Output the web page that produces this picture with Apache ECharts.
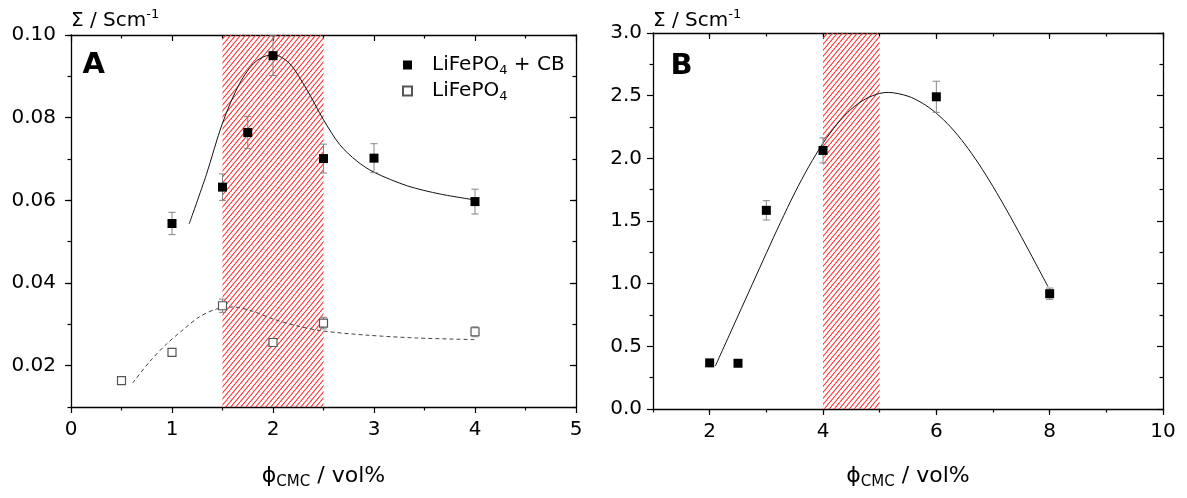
<!DOCTYPE html>
<html>
<head>
<meta charset="utf-8">
<script src="https://cdn.jsdelivr.net/npm/echarts@6/dist/echarts.min.js"></script>
<style>
  html, body { margin: 0; padding: 0; background: #fff; }
  #chart { width: 1187px; height: 498px; }
</style>
</head>
<body>
<div id="chart"></div>
<script>
// ---- Panel A: conductivity vs CMC content ----
const cbPhi = [1, 1.5, 1.75, 2, 2.5, 3, 4];
const cbSigma = [0.0544, 0.0632, 0.0764, 0.0950, 0.0701, 0.0702, 0.0597];
const cbErr = [0.0027, 0.0032, 0.0039, 0.0048, 0.0035, 0.0035, 0.0030];

const lfpPhi = [0.5, 1, 1.5, 2, 2.5, 4];
const lfpSigma = [0.0164, 0.0232, 0.0345, 0.0256, 0.0303, 0.0282];
const lfpErr = [0.0004, 0.0006, 0.0016, 0.0008, 0.0014, 0.0012];

// fitted guide curves
const cbFitPhi = [1.17, 1.34, 1.50, 1.67, 1.83, 2.0, 2.16, 2.33, 2.5, 2.66, 2.83, 3.0, 3.33, 3.66, 4.0];
const cbFitSigma = [0.0543, 0.0662, 0.0787, 0.0883, 0.0936, 0.0953, 0.0932, 0.0870, 0.0795, 0.0735, 0.0695, 0.0668, 0.0635, 0.0615, 0.0601];
const lfpFitPhi = [0.61, 0.78, 0.94, 1.11, 1.27, 1.44, 1.60, 1.77, 2.0, 2.26, 2.49, 2.92, 3.42, 4.0];
const lfpFitSigma = [0.0158, 0.0210, 0.0251, 0.0287, 0.0318, 0.0337, 0.0342, 0.0334, 0.0313, 0.0295, 0.0284, 0.0274, 0.0267, 0.0263];

// ---- Panel B ----
const bPhi = [2, 2.5, 3, 4, 6, 8];
const bSigma = [0.368, 0.365, 1.585, 2.063, 2.491, 0.92];
const bErr = [0.015, 0.015, 0.077, 0.10, 0.124, 0.045];
const bFitPhi = [2.1, 2.5, 2.75, 3.0, 3.25, 3.5, 3.75, 4.0, 4.25, 4.5, 4.75, 5.0, 5.15, 5.5, 5.75, 6.0, 6.25, 6.5, 6.75, 7.0, 7.25, 7.5, 7.75, 7.97];
const bFitSigma = [0.343, 0.743, 0.993, 1.243, 1.489, 1.723, 1.935, 2.12, 2.274, 2.393, 2.474, 2.518, 2.526, 2.496, 2.441, 2.36, 2.251, 2.115, 1.955, 1.775, 1.58, 1.375, 1.164, 0.977];

// optimal CMC windows (hatched)
const windowA = [1.5, 2.5];
const windowB = [4, 5];

// tick labels
const aYTicks = [0.02, 0.04, 0.06, 0.08, 0.10];
const bXTicks = [2, 4, 6, 8, 10];

const FONT = 'DejaVu Sans';
const axisLine = { color: '#000', width: 1.3 };
const tickLine = { color: '#000', width: 1.2 };

function zip(xs, ys) { return xs.map((x, i) => [x, ys[i]]); }
function zip3(xs, ys, es) { return xs.map((x, i) => [x, ys[i], es[i]]); }

// red diagonal hatch tile
function hatchTile() {
  const w = 5, h = 6;
  const c = document.createElement('canvas');
  c.width = w; c.height = h;
  const g = c.getContext('2d');
  g.strokeStyle = '#ff2a2a';
  g.lineWidth = 1.1;
  g.beginPath();
  [-w, 0, w].forEach(dx => { g.moveTo(dx, h); g.lineTo(dx + w, 0); });
  g.stroke();
  return c;
}
const hatch = { image: hatchTile(), repeat: 'repeat' };

function axis(extra) {
  return Object.assign({
    type: 'value',
    splitLine: { show: false },
    minorSplitLine: { show: false },
    axisLine: { show: true, onZero: false, lineStyle: axisLine },
    axisTick: { show: true, length: 6, inside: false, lineStyle: tickLine },
    axisLabel: { show: false },
  }, extra);
}
const label = (extra) => Object.assign({ show: true, fontFamily: FONT, fontSize: 20, color: '#000' }, extra);
const hidden = (extra) => Object.assign({ type: 'value', show: false }, extra);

function errorBars(xi, yi, data) {
  return {
    type: 'custom',
    xAxisIndex: xi, yAxisIndex: yi,
    data: data,
    encode: { x: 0, y: 1 },
    z: 3,
    silent: true,
    renderItem: function (params, api) {
      const x = api.value(0), y = api.value(1), e = api.value(2);
      const top = api.coord([x, y + e]);
      const bot = api.coord([x, y - e]);
      const hw = 3.6;
      const st = { stroke: '#858585', lineWidth: 1 };
      return {
        type: 'group',
        children: [
          { type: 'line', shape: { x1: top[0], y1: top[1], x2: bot[0], y2: bot[1] }, style: st },
          { type: 'line', shape: { x1: top[0] - hw, y1: top[1], x2: top[0] + hw, y2: top[1] }, style: st },
          { type: 'line', shape: { x1: bot[0] - hw, y1: bot[1], x2: bot[0] + hw, y2: bot[1] }, style: st },
        ],
      };
    },
  };
}

const gridA = { left: 71, right: 611, top: 35, bottom: 91 };
const gridB = { left: 653, right: 24, top: 33, bottom: 89 };

const legendRich = {
  g: { width: 15, fontSize: 20, lineHeight: 24 },
  n: { fontFamily: FONT, fontSize: 20, lineHeight: 24, color: '#000', verticalAlign: 'middle' },
  s: { fontFamily: FONT, fontSize: 13, lineHeight: 13, color: '#000', verticalAlign: 'bottom' },
};

const option = {
  animation: false,
  backgroundColor: '#fff',
  grid: [
    Object.assign({}, gridA),
    Object.assign({}, gridB),
    Object.assign({}, gridA),
    Object.assign({}, gridB),
  ],
  xAxis: [
    // 0: A bottom
    axis({ gridIndex: 0, position: 'bottom', min: 0, max: 5, interval: 1,
      minorTick: { show: true, splitNumber: 2, length: 3.5, lineStyle: tickLine },
      axisLabel: label({ margin: 13 }) }),
    // 1: A top (mirror)
    axis({ gridIndex: 0, position: 'top', min: 0, max: 5, interval: 1,
      axisTick: { show: true, inside: true, length: 6, lineStyle: tickLine },
      minorTick: { show: true, splitNumber: 2, length: 3.5, lineStyle: tickLine } }),
    // 2: B bottom, major ticks + labels
    axis({ gridIndex: 1, position: 'bottom', min: 1, max: 10,
      axisTick: { show: true, length: 6, customValues: bXTicks, lineStyle: tickLine },
      axisLabel: label({ margin: 13, customValues: bXTicks }) }),
    // 3: B top (mirror), major ticks
    axis({ gridIndex: 1, position: 'top', min: 1, max: 10,
      axisTick: { show: true, inside: true, length: 6, customValues: bXTicks, lineStyle: tickLine } }),
    // 4: A overlay (hidden)
    hidden({ gridIndex: 2, min: 0, max: 5 }),
    // 5: B overlay bottom minor ticks
    axis({ gridIndex: 3, position: 'bottom', min: 1, max: 10, interval: 1,
      axisLine: { show: false }, axisTick: { show: true, length: 3.5, lineStyle: tickLine } }),
    // 6: B overlay top minor ticks
    axis({ gridIndex: 3, position: 'top', min: 1, max: 10, interval: 1,
      axisLine: { show: false }, axisTick: { show: true, inside: true, length: 3.5, lineStyle: tickLine } }),
  ],
  yAxis: [
    // 0: A left, major ticks + labels
    axis({ gridIndex: 0, position: 'left', min: 0.01, max: 0.10,
      axisTick: { show: true, length: 6, customValues: aYTicks, lineStyle: tickLine },
      axisLabel: label({ margin: 15, customValues: aYTicks, formatter: v => v.toFixed(2) }) }),
    // 1: A right (mirror)
    axis({ gridIndex: 0, position: 'right', min: 0.01, max: 0.10,
      axisTick: { show: true, inside: true, length: 6, customValues: aYTicks, lineStyle: tickLine } }),
    // 2: B left
    axis({ gridIndex: 1, position: 'left', min: 0, max: 3, interval: 0.5,
      minorTick: { show: true, splitNumber: 2, length: 3.5, lineStyle: tickLine },
      axisLabel: label({ margin: 11, formatter: v => v.toFixed(1) }) }),
    // 3: B right (mirror)
    axis({ gridIndex: 1, position: 'right', min: 0, max: 3, interval: 0.5,
      axisTick: { show: true, inside: true, length: 6, lineStyle: tickLine },
      minorTick: { show: true, splitNumber: 2, length: 3.5, lineStyle: tickLine } }),
    // 4: A overlay left minor ticks
    axis({ gridIndex: 2, position: 'left', min: 0.01, max: 0.10, interval: 0.01,
      axisLine: { show: false }, axisTick: { show: true, length: 3.5, lineStyle: tickLine } }),
    // 5: A overlay right minor ticks
    axis({ gridIndex: 2, position: 'right', min: 0.01, max: 0.10, interval: 0.01,
      axisLine: { show: false }, axisTick: { show: true, inside: true, length: 3.5, lineStyle: tickLine } }),
    // 6: B overlay (hidden)
    hidden({ gridIndex: 3, min: 0, max: 3 }),
  ],
  legend: {
    data: ['LiFePO4 + CB', 'LiFePO4'],
    orient: 'vertical',
    left: 397, top: 50,
    itemWidth: 9, itemHeight: 9, itemGap: 4,
    selectedMode: false,
    textStyle: { fontFamily: FONT, fontSize: 20, color: '#000', rich: legendRich },
    formatter: name => name === 'LiFePO4 + CB' ? '{g| }{n|LiFePO}{s|4}{n| + CB}' : '{g| }{n|LiFePO}{s|4}',
  },
  graphic: [
    { type: 'text', x: 82.5, y: 65, style: { text: 'A', fontFamily: FONT, fontWeight: 'bold', fontSize: 29, fill: '#000', align: 'left', verticalAlign: 'middle' } },
    { type: 'text', x: 670.5, y: 66, style: { text: 'B', fontFamily: FONT, fontWeight: 'bold', fontSize: 29, fill: '#000', align: 'left', verticalAlign: 'middle' } },
    ...[71, 653].map(x => ({
      type: 'text', x: x, y: 21,
      style: {
        text: '{m|Σ / Scm}{p|-1}', align: 'left', verticalAlign: 'middle',
        rich: {
          m: { fontFamily: FONT, fontSize: 20, lineHeight: 26, fill: '#000', verticalAlign: 'middle' },
          p: { fontFamily: FONT, fontSize: 13, lineHeight: 13, fill: '#000', verticalAlign: 'top' },
        },
      },
    })),
    ...[323.5, 908].map(x => ({
      type: 'text', x: x, y: 476,
      style: {
        text: '{m|ϕ}{s|CMC}{m| / vol%}', align: 'center', verticalAlign: 'middle',
        rich: {
          m: { fontFamily: FONT, fontSize: 22, lineHeight: 28, fill: '#000', verticalAlign: 'middle' },
          s: { fontFamily: FONT, fontSize: 15, lineHeight: 15, fill: '#000', verticalAlign: 'bottom' },
        },
      },
    })),
  ],
  series: [
    // hatched windows
    {
      type: 'line', xAxisIndex: 0, yAxisIndex: 0, data: [], z: 1, silent: true,
      markArea: { silent: true, itemStyle: { color: hatch, opacity: 1 }, data: [[{ xAxis: windowA[0] }, { xAxis: windowA[1] }]] },
    },
    {
      type: 'line', xAxisIndex: 2, yAxisIndex: 2, data: [], z: 1, silent: true,
      markArea: { silent: true, itemStyle: { color: hatch, opacity: 1 }, data: [[{ xAxis: windowB[0] }, { xAxis: windowB[1] }]] },
    },
    // guide curves
    {
      type: 'line', xAxisIndex: 0, yAxisIndex: 0, data: zip(cbFitPhi, cbFitSigma), smooth: 0.3,
      showSymbol: false, z: 2, silent: true, lineStyle: { color: '#111', width: 1 },
    },
    {
      type: 'line', xAxisIndex: 0, yAxisIndex: 0, data: zip(lfpFitPhi, lfpFitSigma), smooth: 0.3,
      showSymbol: false, z: 2, silent: true, lineStyle: { color: '#444', width: 1, type: [4, 3] },
    },
    {
      type: 'line', xAxisIndex: 2, yAxisIndex: 2, data: zip(bFitPhi, bFitSigma), smooth: 0.3,
      showSymbol: false, z: 2, silent: true, lineStyle: { color: '#111', width: 1 },
    },
    // error bars
    errorBars(0, 0, zip3(cbPhi, cbSigma, cbErr)),
    errorBars(0, 0, zip3(lfpPhi, lfpSigma, lfpErr)),
    errorBars(2, 2, zip3(bPhi, bSigma, bErr)),
    // measured points
    {
      name: 'LiFePO4 + CB', type: 'scatter', xAxisIndex: 0, yAxisIndex: 0,
      data: zip(cbPhi, cbSigma), symbol: 'rect', symbolSize: 9, z: 4,
      itemStyle: { color: '#000', opacity: 1 },
    },
    {
      name: 'LiFePO4', type: 'scatter', xAxisIndex: 0, yAxisIndex: 0,
      data: zip(lfpPhi, lfpSigma), symbol: 'rect', symbolSize: 8, z: 4,
      itemStyle: { color: '#fff', borderColor: '#555', borderWidth: 1.2, opacity: 1 },
    },
    {
      name: 'LiFePO4 + CB', type: 'scatter', xAxisIndex: 2, yAxisIndex: 2,
      data: zip(bPhi, bSigma), symbol: 'rect', symbolSize: 9, z: 4,
      itemStyle: { color: '#000', opacity: 1 },
    },
  ],
};

const chart = echarts.init(document.getElementById('chart'), null, { renderer: 'canvas' });
chart.setOption(option);
</script>
</body>
</html>
